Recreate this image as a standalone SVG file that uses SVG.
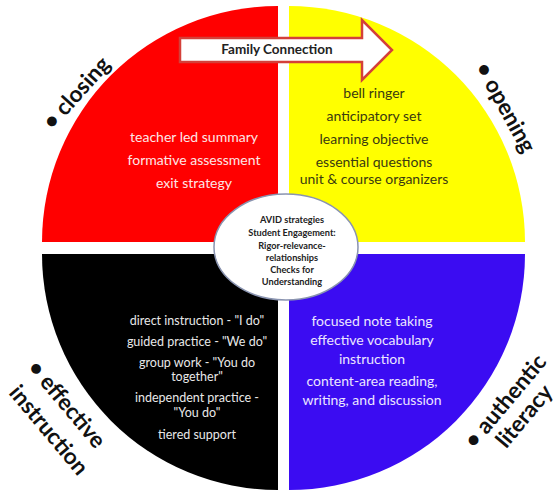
<svg xmlns="http://www.w3.org/2000/svg" width="558" height="491" viewBox="0 0 558 491">
<style>
.q{font-family:Lato,"Liberation Sans",sans-serif;font-size:14px;text-anchor:middle}
.qs{font-family:Lato,"Liberation Sans",sans-serif;font-size:12.5px;text-anchor:middle}
.lbl{font-family:Lato,"Liberation Sans",sans-serif;font-size:22.5px;font-weight:bold;fill:#111;text-anchor:middle}
.ell{font-family:Lato,"Liberation Sans",sans-serif;font-size:9.2px;font-weight:bold;fill:#222;text-anchor:middle}
</style>
<rect width="558" height="491" fill="#ffffff"/>
<g id="closing">
<path d="M278,242 L42,242 A236,236 0 0 1 278,6 Z" fill="#ff0000"/>
<g class="q" fill="#fde6e6">
<text x="194" y="142">teacher led summary</text>
<text x="194" y="165">formative assessment</text>
<text x="194" y="188">exit strategy</text>
</g>
<text class="lbl" transform="translate(82,98) rotate(-48)">•  closing</text>
</g>
<g id="opening">
<path d="M289,242 L289,6 A236,236 0 0 1 525,242 Z" fill="#ffff00"/>
<g class="q" fill="#3a3a10">
<text x="374" y="98">bell ringer</text>
<text x="374" y="121">anticipatory set</text>
<text x="374" y="144">learning objective</text>
<text x="374" y="167">essential questions</text>
<text x="374" y="184">unit &amp; course organizers</text>
</g>
<text class="lbl" transform="translate(499,111) rotate(61)">•  opening</text>
</g>
<g id="effective-instruction">
<path d="M278,254 L278,490 A236,236 0 0 1 42,254 Z" fill="#000000"/>
<g class="qs" fill="#e8e8e8">
<text x="197" y="325">direct instruction  - "I do"</text>
<text x="197" y="346">guided practice - "We do"</text>
<text x="197" y="367">group work - "You do</text>
<text x="197" y="381">together"</text>
<text x="197" y="402">independent  practice -</text>
<text x="197" y="417">"You do"</text>
<text x="197" y="439">tiered support</text>
</g>
<text class="lbl" transform="translate(61,409) rotate(50)">•  effective</text>
<text class="lbl" transform="translate(43,435) rotate(50)">instruction</text>
</g>
<g id="authentic-literacy">
<path d="M289,254 L525,254 A236,236 0 0 1 289,490 Z" fill="#3b0cf2"/>
<g class="q" fill="#ece6ff">
<text x="372" y="326">focused note taking</text>
<text x="372" y="345">effective vocabulary</text>
<text x="372" y="364">instruction</text>
<text x="372" y="386">content-area reading,</text>
<text x="372" y="405">writing, and discussion</text>
</g>
<text class="lbl" transform="translate(511,406) rotate(-50)">•  authentic</text>
<text class="lbl" transform="translate(530,421) rotate(-50)">literacy</text>
</g>
<g id="center">
<ellipse cx="286" cy="247" rx="72" ry="53" fill="#ffffff" stroke="#8a94b0" stroke-width="1.5"/>
<text class="ell" x="292" y="223">AVID strategies</text>
<text class="ell" x="292" y="236">Student Engagement:</text>
<text class="ell" x="292" y="249">Rigor-relevance-</text>
<text class="ell" x="292" y="261">relationships</text>
<text class="ell" x="292" y="273">Checks for</text>
<text class="ell" x="292" y="285">Understanding</text>
</g>
<g id="family-connection">
<path d="M180,38 L362,38 L362,20 L392,50 L362,80 L362,62 L180,62 Z" fill="#ffffff" stroke="#d4403a" stroke-width="2.5" stroke-linejoin="miter"/>
<text x="277" y="54" font-family="Lato,'Liberation Sans',sans-serif" font-size="13.5" font-weight="bold" fill="#222" text-anchor="middle">Family Connection</text>
</g>
<g id="connectors"></g>
</svg>
